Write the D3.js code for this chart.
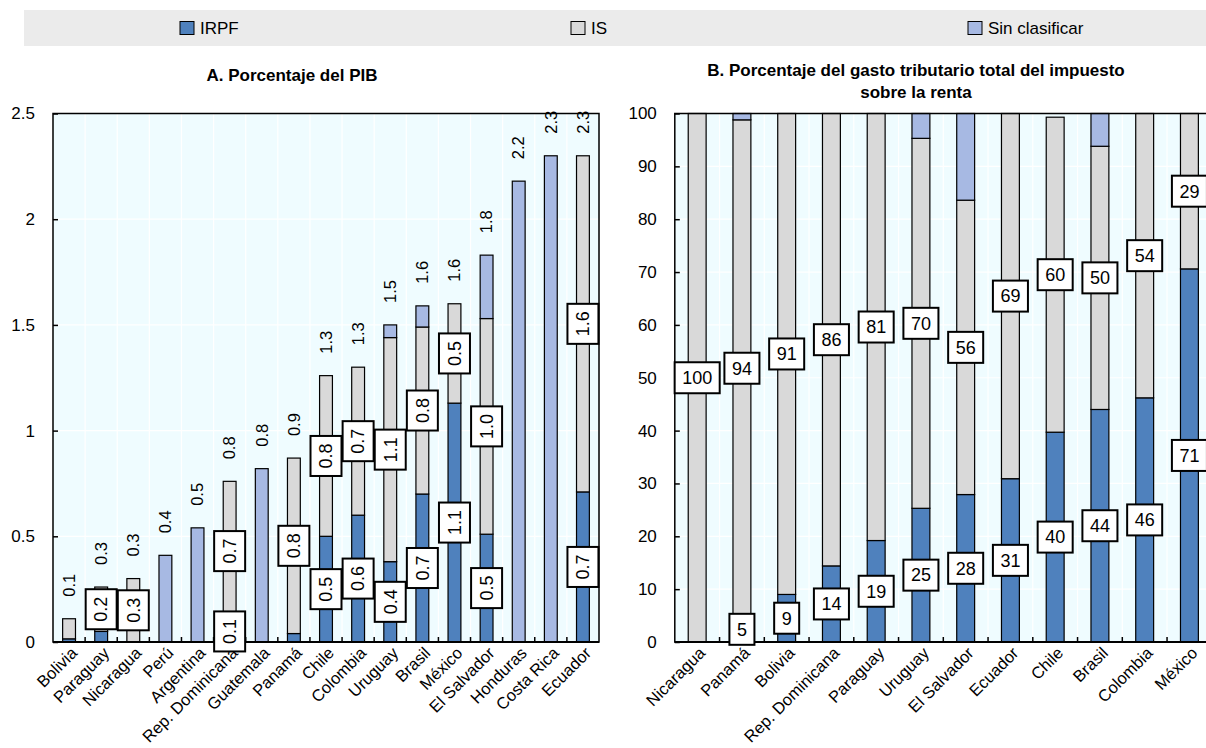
<!DOCTYPE html>
<html>
<head>
<meta charset="utf-8">
<script src="https://cdn.jsdelivr.net/npm/d3@7"></script>
<style>
  body { margin: 0; background: #fff; }
  svg text { font-family: "Liberation Sans", Arial, sans-serif; fill: #000; }
</style>
</head>
<body>
<svg id="chart" width="1206" height="748"></svg>
<script>
/* ******************** data ************************* */
var legendLabels = ["IRPF", "IS", "Sin clasificar"];
var seriesKeys   = ["irpf", "is", "sc"];
var seriesColors = ["#4f81bd", "#d9d9d9", "#a7b9e3"];

// A. Porcentaje del PIB
var countriesA = ["Bolivia", "Paraguay", "Nicaragua", "Perú", "Argentina", "Rep. Dominicana", "Guatemala",
                  "Panamá", "Chile", "Colombia", "Uruguay", "Brasil", "México", "El Salvador",
                  "Honduras", "Costa Rica", "Ecuador"];
var irpfA = [0.015, 0.05, 0, 0, 0, 0.10, 0, 0.04, 0.50, 0.60, 0.38, 0.70, 1.13, 0.51, 0, 0, 0.71];
var isA   = [0.095, 0.21, 0.30, 0, 0, 0.66, 0, 0.83, 0.76, 0.70, 1.06, 0.79, 0.47, 1.02, 0, 0, 1.59];
var scA   = [0, 0, 0, 0.41, 0.54, 0, 0.82, 0, 0, 0, 0.06, 0.10, 0, 0.30, 2.18, 2.30, 0];
var ticksA = [0, 0.5, 1, 1.5, 2, 2.5];

// B. Porcentaje del gasto tributario total del impuesto sobre la renta
var countriesB = ["Nicaragua", "Panamá", "Bolivia", "Rep. Dominicana", "Paraguay", "Uruguay",
                  "El Salvador", "Ecuador", "Chile", "Brasil", "Colombia", "México"];
var irpfB = [0, 4.8, 9.0, 14.4, 19.2, 25.3, 27.9, 30.9, 39.7, 44.0, 46.2, 70.6];
var isB   = [100, 94.0, 91.0, 85.6, 80.8, 70.0, 55.7, 69.1, 59.6, 49.8, 53.8, 29.4];
var scB   = [0, 1.2, 0, 0, 0, 4.7, 16.4, 0, 0, 6.2, 0, 0];
var ticksB = [0, 10, 20, 30, 40, 50, 60, 70, 80, 90, 100];

/* ******************** chart ************************* */
var svg = d3.select("#chart");

// legend band
svg.append("rect")
   .attr("x", 24).attr("y", 10)
   .attr("width", 1182).attr("height", 36)
   .attr("fill", "#ebebeb");

var legendX = [180, 571, 968];
legendLabels.forEach(function(lbl, i) {
  svg.append("rect")
     .attr("x", legendX[i]).attr("y", 21.5)
     .attr("width", 14).attr("height", 13)
     .attr("fill", seriesColors[i])
     .attr("stroke", "#000").attr("stroke-width", 1);
  svg.append("text")
     .attr("x", legendX[i] + 20).attr("y", 34)
     .style("font-size", "17px")
     .text(lbl);
});

// titles
svg.append("text").attr("x", 292).attr("y", 81)
   .attr("text-anchor", "middle").style("font-size", "17px").style("font-weight", "bold")
   .text("A. Porcentaje del PIB");
svg.append("text").attr("x", 916).attr("y", 76)
   .attr("text-anchor", "middle").style("font-size", "17px").style("font-weight", "bold")
   .text("B. Porcentaje del gasto tributario total del impuesto");
svg.append("text").attr("x", 916).attr("y", 98)
   .attr("text-anchor", "middle").style("font-size", "17px").style("font-weight", "bold")
   .text("sobre la renta");

function drawPanel(p) {
  var rows = p.cats.map(function(c, i) {
    return { cat: c, irpf: p.irpf[i], is: p.is[i], sc: p.sc[i] };
  });

  var x = d3.scaleBand().domain(p.cats).range([p.left, p.right])
            .paddingInner(0.6).paddingOuter(0.3);
  var y = d3.scaleLinear().domain([0, p.max]).range([p.bottom, p.top]);
  var gap = x.step() - x.bandwidth();

  var g = svg.append("g");

  // plot background
  g.append("rect")
   .attr("x", p.left).attr("y", p.top)
   .attr("width", p.right - p.left).attr("height", p.bottom - p.top)
   .attr("fill", "#effcff");

  // gridlines
  g.selectAll(".hgrid").data(p.ticks).enter().append("line")
   .attr("x1", p.left).attr("x2", p.right)
   .attr("y1", function(d) { return y(d); }).attr("y2", function(d) { return y(d); })
   .attr("stroke", "#fff").attr("stroke-width", 1.2);
  g.selectAll(".vgrid").data(p.cats.slice(1)).enter().append("line")
   .attr("x1", function(d) { return x(d) - gap / 2; })
   .attr("x2", function(d) { return x(d) - gap / 2; })
   .attr("y1", p.top).attr("y2", p.bottom)
   .attr("stroke", "#fff").attr("stroke-width", 1.2);

  // stacked bars
  var series = d3.stack().keys(seriesKeys)(rows);
  g.selectAll(".serie").data(series).enter().append("g")
   .attr("fill", function(d, i) { return seriesColors[i]; })
   .selectAll("rect")
   .data(function(d) { return d.filter(function(v) { return v[1] - v[0] > 0; }); })
   .enter().append("rect")
   .attr("x", function(d) { return x(d.data.cat); })
   .attr("width", x.bandwidth())
   .attr("y", function(d) { return y(d[1]); })
   .attr("height", function(d) { return y(d[0]) - y(d[1]); })
   .attr("stroke", "#000").attr("stroke-width", 1.2);

  // frame
  g.append("rect")
   .attr("x", p.left).attr("y", p.top)
   .attr("width", p.right - p.left).attr("height", p.bottom - p.top)
   .attr("fill", "none").attr("stroke", "#000").attr("stroke-width", 1.5);
  g.append("line")
   .attr("x1", p.left).attr("x2", p.right)
   .attr("y1", p.bottom).attr("y2", p.bottom)
   .attr("stroke", "#000").attr("stroke-width", 2);

  // x ticks between categories
  g.selectAll(".xtick").data(p.cats.slice(1)).enter().append("line")
   .attr("x1", function(d) { return x(d) - gap / 2; })
   .attr("x2", function(d) { return x(d) - gap / 2; })
   .attr("y1", p.bottom).attr("y2", p.bottom - 5)
   .attr("stroke", "#000").attr("stroke-width", 1.5);

  // y axis
  var yAxis = g.append("g")
   .attr("transform", "translate(" + p.left + ",0)")
   .call(d3.axisLeft(y).tickValues(p.ticks).tickFormat(p.tickFmt)
           .tickSizeInner(-5).tickSizeOuter(0).tickPadding(18));
  yAxis.select(".domain").remove();
  yAxis.attr("font-family", null).attr("font-size", null);
  yAxis.selectAll(".tick line").attr("stroke", "#000").attr("stroke-width", 1.5);
  yAxis.selectAll("text").style("font-size", "17px");

  // category labels
  var xAxis = g.append("g")
   .attr("transform", "translate(0," + p.bottom + ")")
   .call(d3.axisBottom(x).tickSize(0).tickPadding(0));
  xAxis.select(".domain").remove();
  xAxis.attr("font-family", null).attr("font-size", null);
  xAxis.selectAll("text")
   .attr("x", 0).attr("y", 0).attr("dy", "0.35em")
   .attr("transform", "translate(5,8) rotate(-45)")
   .style("text-anchor", "end")
   .style("font-size", "16.5px");

  // total labels above bars
  if (p.totals) {
    g.selectAll(".total").data(rows).enter().append("text")
     .attr("transform", function(d) {
       var t = d.irpf + d.is + d.sc;
       return "translate(" + (x(d.cat) + x.bandwidth() / 2) + "," + (y(t) - 22) + ") rotate(-90)";
     })
     .attr("dy", "0.35em")
     .style("font-size", "16.5px")
     .text(function(d) { return p.fmt(d.irpf + d.is + d.sc); });
  }

  // boxed value labels (IRPF and IS)
  var labelG = g.append("g");
  series.slice(0, 2).forEach(function(s) {
    s.forEach(function(d) {
      var v = d[1] - d[0];
      if (v < p.minLabel) return;
      var cx = x(d.data.cat) + x.bandwidth() / 2, cy = y((d[0] + d[1]) / 2);
      var lg = labelG.append("g")
        .attr("transform", "translate(" + cx + "," + cy + ")" + (p.rotate ? " rotate(-90)" : ""));
      var box = lg.append("rect");
      var t = lg.append("text").attr("text-anchor", "middle").attr("dy", "0.35em")
        .style("font-size", "18px").text(p.fmt(v));
      var w = t.node().getComputedTextLength() + 15;
      box.attr("x", -w / 2).attr("y", -15.5).attr("width", w).attr("height", 31)
         .attr("fill", "#fff").attr("stroke", "#000").attr("stroke-width", 2);
    });
  });
}

drawPanel({
  cats: countriesA, irpf: irpfA, is: isA, sc: scA,
  left: 53, right: 599, top: 113.5, bottom: 642, max: 2.5,
  ticks: ticksA, tickFmt: d3.format(""), fmt: d3.format(".1f"),
  minLabel: 0.1, rotate: true, totals: true
});

drawPanel({
  cats: countriesB, irpf: irpfB, is: isB, sc: scB,
  left: 674.8, right: 1211.8, top: 113.5, bottom: 642, max: 100,
  ticks: ticksB, tickFmt: d3.format(""), fmt: d3.format(".0f"),
  minLabel: 0.5, rotate: false, totals: false
});
</script>
</body>
</html>
